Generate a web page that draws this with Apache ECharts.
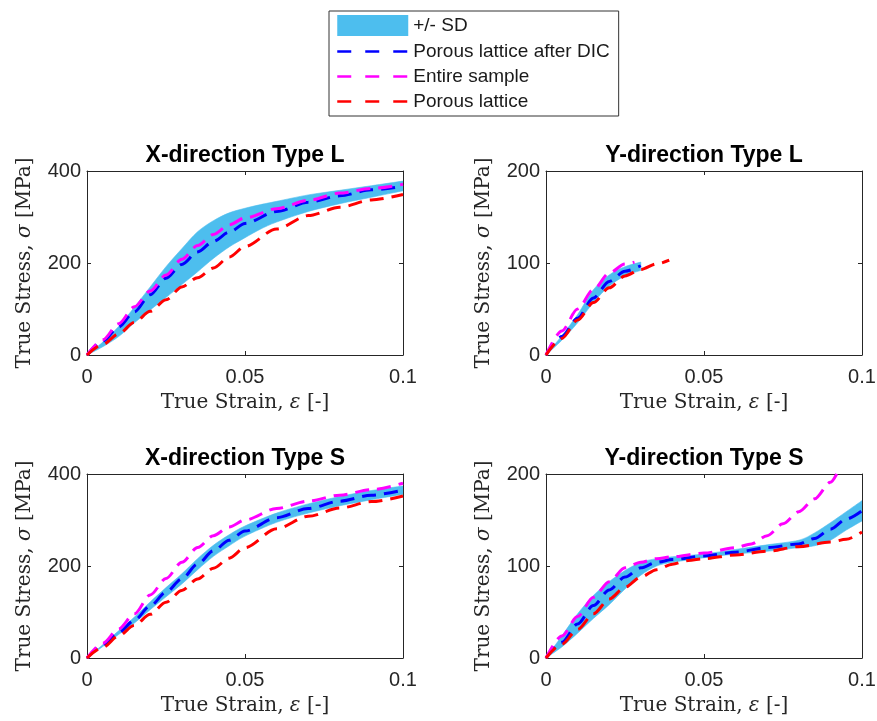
<!DOCTYPE html>
<html>
<head>
<meta charset="utf-8">
<title>True stress-strain curves</title>
<script src="https://cdn.jsdelivr.net/npm/echarts@6.0.0/dist/echarts.min.js"></script>
<style>
  html, body { margin: 0; padding: 0; background: #ffffff; }
  #chart { width: 877px; height: 721px; }
</style>
</head>
<body>
<div id="chart"></div>
<script>
// Tick values shared by the strain axes and the two stress ranges
const strainTicks = [0, 0.05, 0.1];
const stressTicksX = [0, 200, 400];
const stressTicksY = [0, 100, 200];

// ---- X-direction Type L ----
const xlBandStrain = [0, 0.005, 0.01, 0.015, 0.02, 0.025, 0.03, 0.035, 0.04, 0.045, 0.05, 0.055, 0.06, 0.07, 0.08, 0.09, 0.1];
const xlBandLower  = [0, 18, 40, 70, 98, 125, 153, 181, 210, 235, 255, 274, 289, 312, 329, 343, 357];
const xlBandUpper  = [0, 28, 62, 104, 148, 192, 231, 268, 292, 309, 319, 327, 334, 348, 358, 368, 378];
const xlStrain  = [0, 0.005, 0.01, 0.015, 0.02, 0.025, 0.03, 0.035, 0.04, 0.045, 0.05, 0.06, 0.07, 0.08, 0.09, 0.1];
const xlDic     = [0, 30, 61, 94, 131, 167, 197, 224, 247, 267, 286, 312, 332, 346, 359, 367];
const xlEntire  = [0, 33, 68, 105, 139, 174, 208, 238, 262, 283, 298, 318, 336, 352, 362, 371];
const xlLattice = [0, 23, 46, 71, 95, 120, 148, 168, 189, 213, 236, 274, 303, 321, 337, 349];

// ---- Y-direction Type L ----
const ylBandStrain = [0, 0.005, 0.01, 0.015, 0.02, 0.025, 0.03];
const ylBandLower  = [0, 16, 35, 57, 75, 86, 92];
const ylBandUpper  = [0, 21, 44, 71, 87, 96, 101];
const ylDicStrain  = [0, 0.005, 0.01, 0.015, 0.02, 0.025, 0.03];
const ylDic        = [0, 20, 40, 62, 80, 91, 97];
const ylEntireStrain = [0, 0.005, 0.01, 0.015, 0.02, 0.025, 0.028];
const ylEntire       = [0, 26, 50, 71, 89, 99, 101];
const ylLatticeStrain = [0, 0.005, 0.01, 0.015, 0.02, 0.025, 0.03, 0.035, 0.039];
const ylLattice       = [0, 18, 38, 57, 73, 86, 93, 99, 103];

// ---- X-direction Type S ----
const xsStrain    = [0, 0.005, 0.01, 0.015, 0.02, 0.025, 0.03, 0.035, 0.04, 0.045, 0.05, 0.06, 0.07, 0.08, 0.09, 0.1];
const xsBandLower = [0, 25, 51, 76, 105, 133, 161, 192, 221, 244, 265, 295, 315, 331, 344, 356];
const xsBandUpper = [0, 29, 59, 89, 122, 153, 183, 216, 245, 268, 287, 315, 335, 351, 364, 374];
const xsDic       = [0, 27, 55, 82, 113, 143, 172, 204, 233, 256, 276, 305, 325, 341, 354, 365];
const xsEntire    = [0, 32, 63, 96, 137, 173, 208, 240, 266, 285, 300, 325, 341, 354, 366, 380];
const xsLattice   = [0, 23, 48, 71, 95, 121, 147, 172, 195, 217, 240, 281, 308, 326, 340, 352];

// ---- Y-direction Type S ----
const ysBandStrain = [0, 0.005, 0.01, 0.015, 0.02, 0.025, 0.03, 0.035, 0.04, 0.05, 0.06, 0.07, 0.08, 0.085, 0.09, 0.095, 0.1];
const ysBandLower  = [0, 12, 27, 43, 58, 75, 90, 100, 104, 109, 113, 116, 120, 122, 128, 139, 149];
const ysBandUpper  = [0, 24, 48, 68, 83, 95, 104, 108, 110, 113, 118, 123, 128, 136, 147, 159, 171];
const ysDicStrain  = [0, 0.005, 0.01, 0.015, 0.02, 0.025, 0.03, 0.035, 0.04, 0.05, 0.06, 0.07, 0.08, 0.085, 0.09, 0.095, 0.1];
const ysDic        = [0, 17, 37, 57, 74, 88, 98, 104, 107, 111, 115, 120, 124, 130, 140, 151, 160];
const ysEntireStrain = [0, 0.005, 0.01, 0.015, 0.02, 0.025, 0.03, 0.035, 0.04, 0.05, 0.06, 0.065, 0.07, 0.075, 0.08, 0.085, 0.09, 0.092];
const ysEntire       = [0, 24, 45, 66, 83, 98, 104, 108, 110, 114, 120, 124, 133, 146, 159, 173, 191, 200];
const ysLatticeStrain = [0, 0.005, 0.01, 0.015, 0.02, 0.025, 0.03, 0.035, 0.04, 0.045, 0.05, 0.06, 0.07, 0.08, 0.09, 0.095, 0.1];
const ysLattice       = [0, 15, 31, 48, 64, 77, 88, 96, 102, 106, 108, 112, 116, 121, 126, 129, 137];

const SD_NAME = '+/- SD';
const DIC_NAME = 'Porous lattice after DIC';
const ENTIRE_NAME = 'Entire sample';
const LATTICE_NAME = 'Porous lattice';

const SD_COLOR = '#4DBEEE';
const DIC_COLOR = '#0000FF';
const ENTIRE_COLOR = '#FF00FF';
const LATTICE_COLOR = '#FF0000';
const INK = '#262626';

const pairs = (xs, ys) => xs.map((x, i) => [x, ys[i]]);

const panels = [
  { title: 'X-direction Type L', left: 87, top: 171, yTicks: stressTicksX,
    band: [xlBandStrain, xlBandLower, xlBandUpper],
    dic: [xlStrain, xlDic], entire: [xlStrain, xlEntire], lattice: [xlStrain, xlLattice] },
  { title: 'Y-direction Type L', left: 546, top: 171, yTicks: stressTicksY,
    band: [ylBandStrain, ylBandLower, ylBandUpper],
    dic: [ylDicStrain, ylDic], entire: [ylEntireStrain, ylEntire], lattice: [ylLatticeStrain, ylLattice] },
  { title: 'X-direction Type S', left: 87, top: 474, yTicks: stressTicksX,
    band: [xsStrain, xsBandLower, xsBandUpper],
    dic: [xsStrain, xsDic], entire: [xsStrain, xsEntire], lattice: [xsStrain, xsLattice] },
  { title: 'Y-direction Type S', left: 546, top: 474, yTicks: stressTicksY,
    band: [ysBandStrain, ysBandLower, ysBandUpper],
    dic: [ysDicStrain, ysDic], entire: [ysEntireStrain, ysEntire], lattice: [ysLatticeStrain, ysLattice] }
];

const PLOT_W = 316;
const PLOT_H = 184;

const grids = [], xAxes = [], yAxes = [], series = [], titles = [];

const tickFont = { color: INK, fontFamily: 'Liberation Sans', fontSize: 20 };
const nameFont = {
  color: INK, fontFamily: 'DejaVu Serif', fontSize: 20,
  rich: { i: { fontFamily: 'DejaVu Serif', fontStyle: 'italic', fontSize: 20, color: INK } }
};
const lineAxis = { show: true, onZero: false, lineStyle: { color: INK, width: 1 } };
const inTicks = { show: true, inside: true, length: 4, lineStyle: { color: INK, width: 1 } };

const dashed = (name, color, pts, xi, yi) => ({
  name, type: 'line', xAxisIndex: xi, yAxisIndex: yi,
  data: pts, symbol: 'none', showSymbol: false,
  smooth: 0.3, smoothMonotone: 'x',
  lineStyle: { color, width: 3, type: [14, 8], cap: 'butt' },
  itemStyle: { color },
  emphasis: { disabled: true }, silent: true, z: 3
});

// Cubic segments through pixel points (cardinal spline), appended to a path string
const SMOOTH = 0.3;
function splineTo(pts) {
  let d = '';
  for (let i = 0; i < pts.length - 1; i++) {
    const p0 = pts[Math.max(i - 1, 0)], p1 = pts[i], p2 = pts[i + 1], p3 = pts[Math.min(i + 2, pts.length - 1)];
    const c1 = [p1[0] + (p2[0] - p0[0]) * SMOOTH / 2, p1[1] + (p2[1] - p0[1]) * SMOOTH / 2];
    const c2 = [p2[0] - (p3[0] - p1[0]) * SMOOTH / 2, p2[1] - (p3[1] - p1[1]) * SMOOTH / 2];
    d += ` C ${c1[0]} ${c1[1]} ${c2[0]} ${c2[1]} ${p2[0]} ${p2[1]}`;
  }
  return d;
}

// +/- SD band: closed shape along the upper edge and back along the lower edge
const bandSeries = (strain, lower, upper, xi, yi) => ({
  name: SD_NAME, type: 'custom', xAxisIndex: xi, yAxisIndex: yi,
  coordinateSystem: 'cartesian2d', clip: true, silent: true, z: 2,
  itemStyle: { color: SD_COLOR },
  encode: { x: 0, y: [1, 2] },
  data: strain.map((x, i) => [x, lower[i], upper[i]]),
  renderItem: (params, api) => {
    if (params.dataIndex !== 0) return null;
    const top = strain.map((x, i) => api.coord([x, upper[i]]));
    const bottom = strain.map((x, i) => api.coord([x, lower[i]])).reverse();
    const pathData = `M ${top[0][0]} ${top[0][1]}` + splineTo(top) +
      ` L ${bottom[0][0]} ${bottom[0][1]}` + splineTo(bottom) + ' Z';
    return {
      type: 'path',
      shape: { pathData },
      style: { fill: SD_COLOR, stroke: SD_COLOR, lineWidth: 0.6 }
    };
  }
});

panels.forEach((p, g) => {
  grids.push({ left: p.left, top: p.top, width: PLOT_W, height: PLOT_H,
               containLabel: false, outerBoundsMode: 'none' });
  const yMin = p.yTicks[0], yMax = p.yTicks[p.yTicks.length - 1];
  const yStep = p.yTicks[1] - p.yTicks[0];
  const xMin = strainTicks[0], xMax = strainTicks[strainTicks.length - 1];
  const xStep = strainTicks[1] - strainTicks[0];

  // bottom strain axis (labelled) and its mirrored top edge
  xAxes.push({
    type: 'value', gridIndex: g, position: 'bottom', min: xMin, max: xMax, interval: xStep,
    axisLine: lineAxis, axisTick: inTicks, splitLine: { show: false },
    axisLabel: Object.assign({ margin: 12 }, tickFont),
    name: 'True Strain, {i|ε} [-]', nameLocation: 'middle', nameGap: 38, nameTextStyle: nameFont
  });
  xAxes.push({
    type: 'value', gridIndex: g, position: 'top', min: xMin, max: xMax, interval: xStep,
    axisLine: lineAxis, axisTick: inTicks, axisLabel: { show: false }, splitLine: { show: false }
  });
  // left stress axis (labelled) and its mirrored right edge
  yAxes.push({
    type: 'value', gridIndex: g, position: 'left', min: yMin, max: yMax, interval: yStep,
    axisLine: lineAxis, axisTick: inTicks, splitLine: { show: false },
    axisLabel: Object.assign({ margin: 6 }, tickFont),
    name: 'True Stress, {i|σ} [MPa]', nameLocation: 'middle', nameGap: 52, nameTextStyle: nameFont
  });
  yAxes.push({
    type: 'value', gridIndex: g, position: 'right', min: yMin, max: yMax, interval: yStep,
    axisLine: lineAxis, axisTick: inTicks, axisLabel: { show: false }, splitLine: { show: false }
  });

  const xi = 2 * g, yi = 2 * g;
  series.push(bandSeries(p.band[0], p.band[1], p.band[2], xi, yi));
  series.push(dashed(DIC_NAME, DIC_COLOR, pairs(p.dic[0], p.dic[1]), xi, yi));
  series.push(dashed(ENTIRE_NAME, ENTIRE_COLOR, pairs(p.entire[0], p.entire[1]), xi, yi));
  series.push(dashed(LATTICE_NAME, LATTICE_COLOR, pairs(p.lattice[0], p.lattice[1]), xi, yi));

  titles.push({
    text: p.title, left: p.left + PLOT_W / 2, top: p.top - 27, textAlign: 'center', padding: 0,
    textStyle: { fontFamily: 'Liberation Sans', fontWeight: 'bold', fontSize: 23, color: '#000' }
  });
});

const legendLine = color => ({ color, width: 2.5, type: [14, 14], cap: 'butt' });

const option = {
  animation: false,
  backgroundColor: '#ffffff',
  title: titles,
  grid: grids,
  xAxis: xAxes,
  yAxis: yAxes,
  legend: {
    orient: 'vertical', left: 329, top: 11,
    padding: [4, 9, 5, 7], itemGap: 6, itemWidth: 71, itemHeight: 21,
    backgroundColor: '#ffffff', borderColor: '#333333', borderWidth: 1,
    selectedMode: false,
    textStyle: { fontFamily: 'Liberation Sans', fontSize: 19, color: '#1a1a1a' },
    data: [
      { name: SD_NAME, icon: 'rect', itemStyle: { color: SD_COLOR } },
      { name: DIC_NAME, itemStyle: { opacity: 0 }, lineStyle: legendLine(DIC_COLOR) },
      { name: ENTIRE_NAME, itemStyle: { opacity: 0 }, lineStyle: legendLine(ENTIRE_COLOR) },
      { name: LATTICE_NAME, itemStyle: { opacity: 0 }, lineStyle: legendLine(LATTICE_COLOR) }
    ]
  },
  series
};

const chart = echarts.init(document.getElementById('chart'), null, { renderer: 'canvas' });
chart.setOption(option);
</script>
</body>
</html>
